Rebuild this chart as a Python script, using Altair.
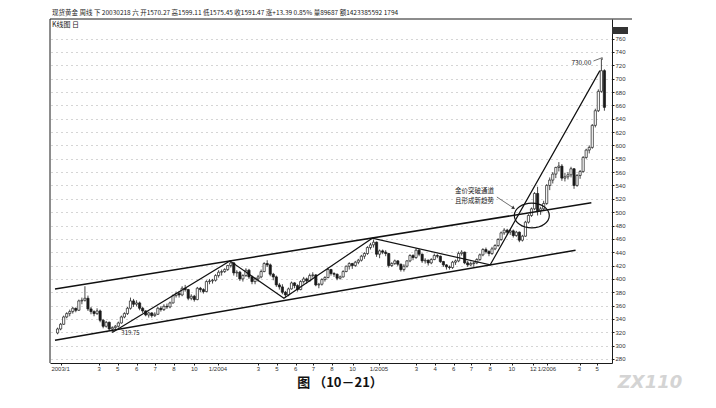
import altair as alt
import pandas as pd

# ---------------- data (weekly spot gold) ----------------
week_index = list(range(-4, 177))

opens_2002 = [319, 325, 332, 343]
highs_2002 = [327, 334, 345, 350]
lows_2002 = [317, 323, 331, 341]
closes_2002 = [325, 332, 343, 348]

opens_2003 = [348, 351, 356, 353, 367, 368, 371, 355, 351, 348, 352, 338, 329, 335, 325, 327, 329, 334, 343, 348,
              356, 367, 362, 364, 356, 352, 346, 349, 345, 347, 356, 354, 359, 358, 364, 375, 378, 376, 386, 384,
              371, 374, 369, 386, 384, 381, 396, 397, 398, 405, 410, 411]
highs_2003 = [354, 358, 357, 369, 372, 389, 375, 358, 353, 356, 354, 340, 337, 336, 329, 331, 336, 345, 350, 358,
              372, 370, 368, 366, 358, 353, 351, 350, 350, 358, 359, 362, 363, 366, 377, 381, 382, 389, 391, 385,
              377, 376, 388, 388, 386, 398, 400, 400, 407, 413, 414, 416]
lows_2003 = [344, 348, 350, 352, 362, 366, 352, 347, 344, 346, 335, 326, 327, 322, 319.75, 323, 327, 333, 341, 346,
             354, 358, 359, 353, 349, 344, 342, 342, 343, 346, 351, 352, 355, 356, 363, 372, 372, 374, 381, 368,
             368, 366, 368, 380, 378, 380, 392, 393, 396, 402, 405, 409]
closes_2003 = [351, 356, 353, 367, 368, 371, 355, 351, 348, 352, 338, 329, 335, 325, 327, 329, 334, 343, 348, 356,
               367, 362, 364, 356, 352, 346, 349, 345, 347, 356, 354, 359, 358, 364, 375, 378, 376, 386, 384, 371,
               374, 369, 386, 384, 381, 396, 397, 398, 405, 410, 411, 414]

opens_2004 = [414, 420, 424, 409, 410, 400, 405, 413, 403, 396, 400, 403, 411, 423, 421, 407, 403, 391, 388, 380,
              376, 385, 394, 390, 384, 396, 400, 397, 405, 406, 391, 392, 399, 402, 414, 408, 407, 401, 403, 411,
              419, 423, 420, 425, 428, 434, 438, 447, 451, 455, 437, 442, 440]
highs_2004 = [421, 428, 425, 413, 412, 407, 416, 415, 405, 402, 406, 414, 425, 428, 423, 409, 405, 394, 392, 382,
              387, 396, 395, 392, 398, 403, 402, 408, 410, 407, 394, 401, 404, 417, 415, 410, 408, 405, 413, 420,
              425, 424, 427, 430, 436, 440, 449, 454, 459, 456, 444, 444, 443]
lows_2004 = [412, 417, 405, 403, 397, 396, 403, 400, 392, 392, 396, 401, 410, 418, 404, 398, 388, 384, 377, 372,
             374, 384, 386, 381, 383, 393, 393, 396, 402, 389, 386, 390, 396, 401, 405, 403, 398, 399, 402, 410,
             414, 415, 418, 422, 426, 430, 436, 444, 447, 433, 431, 437, 434]
closes_2004 = [420, 424, 409, 410, 400, 405, 413, 403, 396, 400, 403, 411, 423, 421, 407, 403, 391, 388, 380, 376,
               385, 394, 390, 384, 396, 400, 397, 405, 406, 391, 392, 399, 402, 414, 408, 407, 401, 403, 411, 419,
               423, 420, 425, 428, 434, 438, 447, 451, 455, 437, 442, 440, 438]

opens_2005 = [438, 420, 423, 427, 422, 414, 419, 427, 435, 432, 443, 437, 427, 428, 424, 429, 435, 434, 426, 421,
              418, 417, 425, 427, 438, 440, 424, 421, 423, 424, 429, 436, 444, 441, 438, 445, 450, 459, 469, 473,
              470, 472, 465, 470, 458, 464, 485, 495, 505, 528, 502, 505]
highs_2005 = [439, 425, 429, 428, 423, 422, 428, 437, 437, 446, 445, 438, 431, 429, 431, 438, 437, 435, 427, 422,
              420, 427, 429, 441, 443, 441, 427, 426, 426, 431, 438, 446, 447, 443, 448, 452, 461, 471, 476, 475,
              475, 474, 472, 471, 466, 487, 497, 507, 530, 538, 508, 517]
lows_2005 = [417, 418, 421, 419, 411, 411, 417, 425, 428, 430, 434, 424, 423, 420, 422, 428, 431, 424, 418, 414,
             414, 415, 421, 425, 435, 422, 418, 419, 418, 422, 427, 434, 438, 434, 436, 443, 448, 457, 466, 466,
             466, 462, 463, 455, 456, 463, 483, 493, 503, 495, 496, 503]
closes_2005 = [420, 423, 427, 422, 414, 419, 427, 435, 432, 443, 437, 427, 428, 424, 429, 435, 434, 426, 421, 418,
               417, 425, 427, 438, 440, 424, 421, 423, 424, 429, 436, 444, 441, 438, 445, 450, 459, 469, 473, 470,
               472, 465, 470, 458, 464, 485, 495, 505, 528, 502, 505, 513]

opens_2006 = [513, 540, 548, 557, 567, 569, 551, 553, 556, 565, 540, 555, 561, 582, 593, 597, 630, 652, 681, 712]
highs_2006 = [542, 552, 560, 568, 575, 572, 559, 560, 568, 566, 557, 563, 584, 595, 600, 632, 655, 684, 730, 714]
lows_2006 = [511, 533, 543, 551, 561, 547, 546, 549, 552, 535, 538, 550, 559, 580, 588, 595, 627, 650, 679, 652]
closes_2006 = [540, 548, 557, 567, 569, 551, 553, 556, 565, 540, 555, 561, 582, 593, 597, 630, 652, 681, 712, 657]

opens = opens_2002 + opens_2003 + opens_2004 + opens_2005 + opens_2006
highs = highs_2002 + highs_2003 + highs_2004 + highs_2005 + highs_2006
lows = lows_2002 + lows_2003 + lows_2004 + lows_2005 + lows_2006
closes = closes_2002 + closes_2003 + closes_2004 + closes_2005 + closes_2006

# x-axis month labels (position in weeks, text)
x_label_pos = [-3, 9.7, 15.8, 22, 28.1, 34.3, 41, 48.8, 62.1, 68.2, 74.4, 80.2, 86.3, 93.1,
               101.8, 114.1, 120.3, 126.4, 132.2, 138.4, 145.5, 152.6, 157.1, 167.8, 173.6]
x_label_txt = ["2003/1", "3", "5", "6", "7", "8", "10", "1/2004", "3", "5", "6", "7", "8", "10",
               "1/2005", "3", "4", "6", "7", "8", "10", "12", "1/2006", "3", "5"]
y_ticks = list(range(280, 761, 20))

# channel and trend lines (week, price)
chan_i = [-4.85, 171.7, -4.85, 166.5]
chan_v = [385, 514, 308, 443]
chan_g = ["upper", "upper", "lower", "lower"]
zig_i = [14, 52.7, 70.5, 99.6, 138.4, 174.5]
zig_v = [319.75, 427, 371, 461, 421, 712]

FONT = "Noto Sans CJK SC"
INK = "#1a1a1a"

df = pd.DataFrame({"i": week_index, "open": opens, "high": highs, "low": lows, "close": closes})
x_scale = alt.Scale(domain=[-4.85, 176.85], nice=False, zero=False)
y_scale = alt.Scale(domain=[274, 789.4], nice=False, zero=False)

bottom_axis = alt.Axis(values=x_label_pos, labels=False, tickSize=2, tickColor=INK, domainColor=INK,
                       domainWidth=1, grid=False, title=None)
right_axis = alt.Axis(orient="right", values=y_ticks, labelFontSize=6, labelFont="Liberation Sans",
                      labelColor="#333", labelPadding=1, tickSize=2, tickColor=INK, domainColor=INK,
                      domainWidth=1, grid=True, gridDash=[1, 4], gridColor="#a0a0a0", gridWidth=0.9,
                      title=None)


def X():
    return alt.X("i:Q", scale=x_scale, axis=bottom_axis, title=None)


def Y(field):
    return alt.Y(field, scale=y_scale, axis=right_axis, title=None)


wick = alt.Chart(df).mark_rule(strokeWidth=0.8, color=INK).encode(
    x=X(), y=Y("low:Q"), y2="high:Q")

body = alt.Chart(df).mark_bar(size=2.2, stroke=INK, strokeWidth=0.7).encode(
    x=X(), y=Y("open:Q"), y2="close:Q",
    fill=alt.condition("datum.close >= datum.open", alt.value("white"), alt.value(INK)))

chan_df = pd.DataFrame({"i": chan_i, "v": chan_v, "g": chan_g})
channel = alt.Chart(chan_df).mark_line(strokeWidth=1.5, color="#111").encode(
    x=X(), y=Y("v:Q"), detail="g:N")

zig_df = pd.DataFrame({"i": zig_i, "v": zig_v})
zig = alt.Chart(zig_df).mark_line(strokeWidth=1.2, color="#111").encode(x=X(), y=Y("v:Q"))

# 730 leader line and label
lead_df = pd.DataFrame({"i": [172.4, 175.3, 175.3], "v": [726.5, 731.5, 728], "o": [0, 1, 2]})
lead = alt.Chart(lead_df).mark_line(strokeWidth=0.7, color="#333").encode(
    x=X(), y=Y("v:Q"), order="o:Q")

ann_df = pd.DataFrame({
    "i": [168.4, 20, 133.2, 133.2],
    "v": [724, 319, 531, 516],
    "t": ["730.00", "319.75", "金价突破通道", "且形成新趋势"],
    "s": [6.5, 6, 6.5, 6.5],
})
ann = alt.Chart(ann_df).mark_text(font=FONT, color="#222", baseline="middle").encode(
    x=X(), y=Y("v:Q"), text="t:N", size=alt.Size("s:Q", scale=None, legend=None))

# ellipse around breakout
ell_df = pd.DataFrame({"i": [152.1], "v": [495]})
ellipse = alt.Chart(ell_df).mark_point(
    shape="M -1 0 A 1 0.71 0 1 1 1 0 A 1 0.71 0 1 1 -1 0 Z",
    size=1225, filled=False, stroke="#111", strokeWidth=1.2, opacity=1).encode(x=X(), y=Y("v:Q"))

arrow_df = pd.DataFrame({"i": [140.6, 146.1], "v": [522.7, 506.2]})
arrow = alt.Chart(arrow_df).mark_line(strokeWidth=0.7, color="#333").encode(x=X(), y=Y("v:Q"))
head_df = pd.DataFrame({"i": [146.1], "v": [506.2]})
head = alt.Chart(head_df).mark_point(shape="triangle-up", angle=123, size=14, filled=True,
                                     color="#333", opacity=1).encode(x=X(), y=Y("v:Q"))

# x labels
xl_df = pd.DataFrame({"i": x_label_pos, "t": x_label_txt})
xlabels = alt.Chart(xl_df).mark_text(fontSize=6, font="Liberation Sans", color="#333",
                                     baseline="middle").encode(
    x=X(), y=alt.value(350), text="t:N")

one = pd.DataFrame({"a": [0]})
frame_top = alt.Chart(one).mark_rule(color=INK, strokeWidth=1).encode(
    x=alt.value(0), x2=alt.value(582), y=alt.value(0))
frame_left = alt.Chart(one).mark_rule(color=INK, strokeWidth=1).encode(
    x=alt.value(0), y=alt.value(0), y2=alt.value(344))
price_box = alt.Chart(one).mark_rect(color="#333").encode(
    x=alt.value(562), x2=alt.value(578), y=alt.value(8), y2=alt.value(15))

header = alt.Chart(one).mark_text(fontSize=6.5, font=FONT, color="#222", align="left",
                                  baseline="middle").encode(
    x=alt.value(2), y=alt.value(-6),
    text=alt.value("现货黄金 周线 下 20030218 六 开1570.27 高1599.11 低1575.45 收1591.47 涨+13.39 0.85% 量89687 额1423385592 1794"))
subhead = alt.Chart(one).mark_text(fontSize=7, font=FONT, color="#222", align="left",
                                   baseline="middle").encode(
    x=alt.value(2), y=alt.value(6), text=alt.value("K线图 日"))
caption = alt.Chart(one).mark_text(fontSize=13, font=FONT, fontWeight="bold", color="#111",
                                   baseline="middle").encode(
    x=alt.value(290), y=alt.value(364), text=alt.value("图 （10－21）"))
wm = alt.Chart(one).mark_text(fontSize=18, font="DejaVu Sans", fontWeight="bold", fontStyle="italic",
                              color="#d4d4d4", baseline="middle").encode(
    x=alt.value(600), y=alt.value(364), text=alt.value("ZX110"))

chart = alt.layer(
    wick, body, channel, zig, lead, ann, ellipse, arrow, head, xlabels,
    frame_top, frame_left, price_box, header, subhead, caption, wm
).properties(
    width=562, height=344,
    autosize=alt.AutoSizeParams(type="none"),
    padding={"left": 42, "top": 11, "right": 90, "bottom": 37},
    background="white",
).configure_view(strokeWidth=0)

chart.save("out.html", embed_options={"renderer": "svg", "actions": False})
